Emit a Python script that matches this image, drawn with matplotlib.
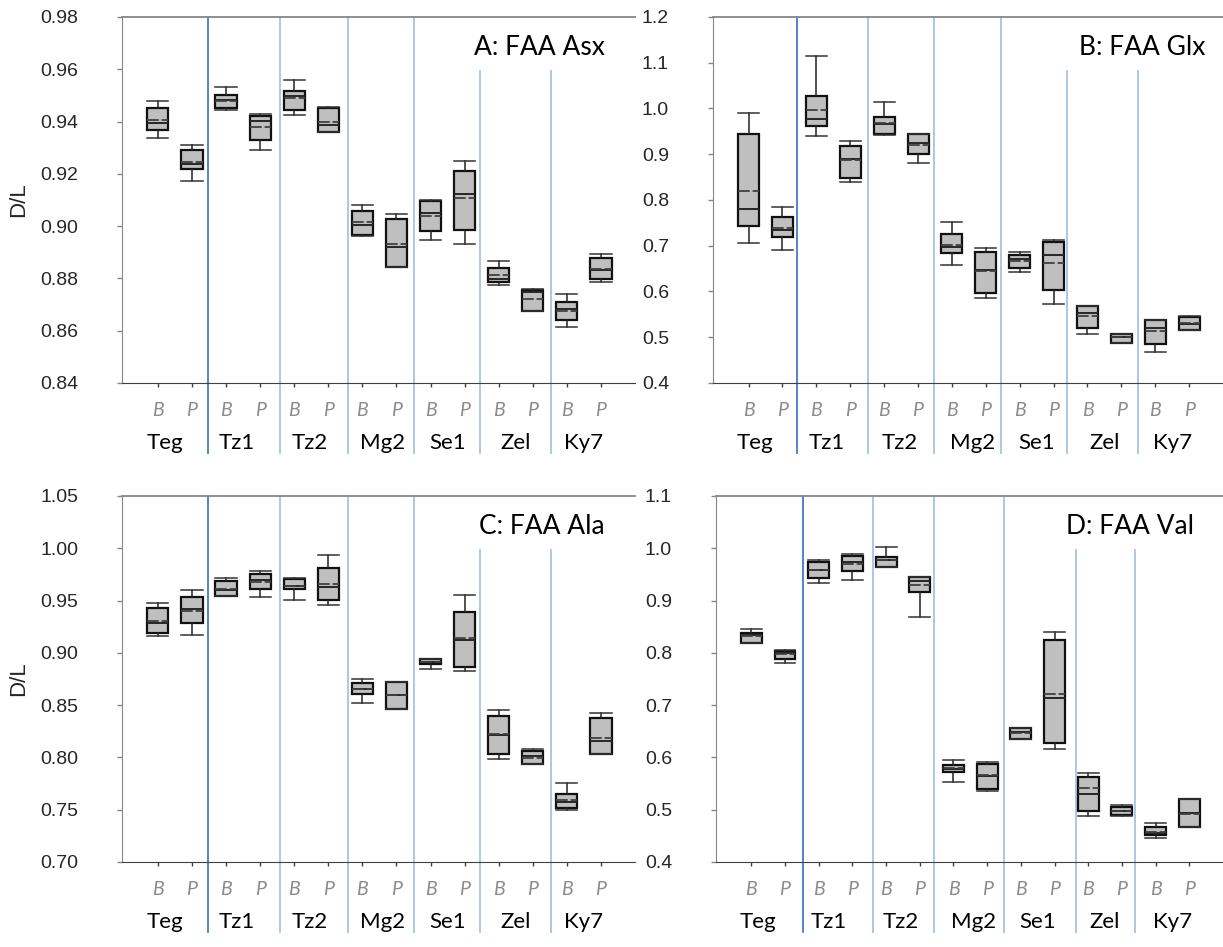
import matplotlib

matplotlib.use("Agg")
import matplotlib.pyplot as plt  # noqa: E402
from matplotlib.transforms import blended_transform_factory  # noqa: E402

SITES = ["Teg", "Tz1", "Tz2", "Mg2", "Se1", "Zel", "Ky7"]
FRACTIONS = ["B", "P"]

# --- A: Asx -------------------------------------------------------------
ASX_LO = [0.9338, 0.9174, 0.9443, 0.9292, 0.9426, 0.9359, 0.8964, 0.8843, 0.8948, 0.8932, 0.8775, 0.8674, 0.8613, 0.8788]
ASX_Q1 = [0.9368, 0.9217, 0.9451, 0.9330, 0.9443, 0.9360, 0.8966, 0.8845, 0.8980, 0.8985, 0.8788, 0.8675, 0.8640, 0.8797]
ASX_MED = [0.9393, 0.9238, 0.9481, 0.9401, 0.9498, 0.9387, 0.9004, 0.8921, 0.9051, 0.9124, 0.8799, 0.8749, 0.8684, 0.8831]
ASX_MEAN = [0.9406, 0.9247, 0.9480, 0.9379, 0.9490, 0.9398, 0.9015, 0.8932, 0.9040, 0.9108, 0.8812, 0.8722, 0.8677, 0.8836]
ASX_Q3 = [0.9451, 0.9290, 0.9502, 0.9421, 0.9516, 0.9453, 0.9059, 0.9028, 0.9097, 0.9211, 0.8839, 0.8757, 0.8709, 0.8877]
ASX_HI = [0.9479, 0.9309, 0.9531, 0.9430, 0.9560, 0.9454, 0.9080, 0.9046, 0.9098, 0.9249, 0.8865, 0.8758, 0.8742, 0.8895]

# --- B: Glx -------------------------------------------------------------
GLX_LO = [0.7067, 0.6906, 0.9406, 0.8388, 0.9430, 0.8803, 0.6588, 0.5868, 0.6427, 0.5722, 0.5074, 0.4870, 0.4676, 0.5150]
GLX_Q1 = [0.7437, 0.7197, 0.9624, 0.8484, 0.9434, 0.8999, 0.6841, 0.5977, 0.6507, 0.6027, 0.5199, 0.4878, 0.4844, 0.5155]
GLX_MED = [0.7808, 0.7335, 0.9770, 0.8898, 0.9650, 0.9247, 0.6972, 0.6470, 0.6703, 0.6797, 0.5519, 0.5003, 0.5206, 0.5286]
GLX_MEAN = [0.8200, 0.7379, 0.9958, 0.8868, 0.9675, 0.9210, 0.7023, 0.6448, 0.6659, 0.6631, 0.5460, 0.5000, 0.5134, 0.5301]
GLX_Q3 = [0.9449, 0.7633, 1.0263, 0.9173, 0.9813, 0.9449, 0.7263, 0.6871, 0.6797, 0.7080, 0.5672, 0.5074, 0.5366, 0.5432]
GLX_HI = [0.9907, 0.7843, 1.1157, 0.9282, 1.0132, 0.9450, 0.7517, 0.6950, 0.6862, 0.7132, 0.5674, 0.5080, 0.5370, 0.5467]

# --- C: Ala -------------------------------------------------------------
ALA_LO = [0.9158, 0.9168, 0.9540, 0.9537, 0.9503, 0.9455, 0.8524, 0.8458, 0.8843, 0.8824, 0.7982, 0.7938, 0.7500, 0.8030]
ALA_Q1 = [0.9187, 0.9283, 0.9547, 0.9608, 0.9611, 0.9503, 0.8603, 0.8460, 0.8893, 0.8862, 0.8030, 0.7940, 0.7520, 0.8033]
ALA_MED = [0.9283, 0.9416, 0.9598, 0.9697, 0.9636, 0.9633, 0.8657, 0.8597, 0.8912, 0.9123, 0.8218, 0.8017, 0.7570, 0.8154]
ALA_MEAN = [0.9308, 0.9400, 0.9614, 0.9675, 0.9639, 0.9656, 0.8651, 0.8600, 0.8910, 0.9139, 0.8222, 0.7998, 0.7590, 0.8186]
ALA_Q3 = [0.9432, 0.9534, 0.9687, 0.9757, 0.9703, 0.9811, 0.8715, 0.8721, 0.8938, 0.9394, 0.8399, 0.8059, 0.7650, 0.8380]
ALA_HI = [0.9477, 0.9598, 0.9719, 0.9780, 0.9716, 0.9939, 0.8753, 0.8722, 0.8940, 0.9553, 0.8454, 0.8081, 0.7755, 0.8422]

# --- D: Val -------------------------------------------------------------
VAL_LO = [0.8197, 0.7801, 0.9344, 0.9388, 0.9649, 0.8694, 0.5530, 0.5350, 0.6361, 0.6157, 0.4870, 0.4870, 0.4450, 0.4660]
VAL_Q1 = [0.8197, 0.7891, 0.9439, 0.9560, 0.9649, 0.9165, 0.5717, 0.5400, 0.6361, 0.6277, 0.4970, 0.4890, 0.4510, 0.4660]
VAL_MED = [0.8342, 0.7998, 0.9585, 0.9732, 0.9771, 0.9375, 0.5774, 0.5640, 0.6476, 0.7138, 0.5300, 0.4970, 0.4550, 0.4930]
VAL_MEAN = [0.8323, 0.7973, 0.9585, 0.9694, 0.9771, 0.9293, 0.5799, 0.5660, 0.6463, 0.7214, 0.5420, 0.4970, 0.4580, 0.4920]
VAL_Q3 = [0.8380, 0.8044, 0.9738, 0.9853, 0.9834, 0.9459, 0.5857, 0.5883, 0.6564, 0.8241, 0.5620, 0.5050, 0.4660, 0.5200]
VAL_HI = [0.8457, 0.8056, 0.9783, 0.9891, 1.0019, 0.9459, 0.5946, 0.5914, 0.6564, 0.8394, 0.5698, 0.5080, 0.4740, 0.5200]

TICK_FONT = "Liberation Sans"
LABEL_FONT = "Lato"
SEP_DARK = "#4a78c6"
SEP_LIGHT = "#a9c1e6"
GROUP_NUDGE = [-0.3, -0.2, -0.05, 0.1, 0.0, 0.0, 0.0]

# panel: title, data, axes rect, ylim, tick step, fmt, separator x (data), title x
PANELS = [
    ("A: FAA Asx", (ASX_LO, ASX_Q1, ASX_MED, ASX_MEAN, ASX_Q3, ASX_HI),
     [0.0998, 0.5956, 0.4195, 0.3865], (0.84, 0.98), 0.02, "{:.2f}",
     [1.475, 3.59, 5.58, 7.52, 9.45, 11.53], 0.942),
    ("B: FAA Glx", (GLX_LO, GLX_Q1, GLX_MED, GLX_MEAN, GLX_Q3, GLX_HI),
     [0.583, 0.5956, 0.417, 0.3865], (0.4, 1.2), 0.1, "{:.1f}",
     [1.44, 3.53, 5.47, 7.44, 9.41, 11.49], 0.965),
    ("C: FAA Ala", (ALA_LO, ALA_Q1, ALA_MED, ALA_MEAN, ALA_Q3, ALA_HI),
     [0.0998, 0.0898, 0.4195, 0.3865], (0.70, 1.05), 0.05, "{:.2f}",
     [1.475, 3.59, 5.58, 7.52, 9.45, 11.53], 0.940),
    ("D: FAA Val", (VAL_LO, VAL_Q1, VAL_MED, VAL_MEAN, VAL_Q3, VAL_HI),
     [0.5854, 0.0898, 0.4146, 0.3865], (0.4, 1.1), 0.1, "{:.1f}",
     [1.53, 3.62, 5.42, 7.51, 9.63, 11.40], 0.943),
]


def draw(fig, title, data, rect, ylim, step, fmt, seps, tx, show_ylabel):
    lo, q1, med, mean, q3, hi = data
    ax = fig.add_axes(rect)
    stats = [dict(whislo=a, q1=b, med=c, mean=d, q3=e, whishi=f, fliers=[])
             for a, b, c, d, e, f in zip(lo, q1, med, mean, q3, hi)]
    pos = list(range(len(stats)))
    ax.bxp(stats, positions=pos, widths=0.62, capwidths=0.62, patch_artist=True,
           showmeans=True, meanline=True, showfliers=False,
           boxprops=dict(facecolor="#bfbfbf", edgecolor="#111111", linewidth=1.6),
           whiskerprops=dict(color="#222222", linewidth=1.1),
           capprops=dict(color="#333333", linewidth=1.1),
           medianprops=dict(color="#262626", linewidth=1.4),
           meanprops=dict(color="#404040", linewidth=1.3, linestyle=(0, (6.5, 1.6))))

    ax.set_xlim(-1.05, 14.0)
    ax.set_ylim(*ylim)
    n = int(round((ylim[1] - ylim[0]) / step))
    ticks = [ylim[0] + i * step for i in range(n + 1)]
    ax.set_yticks(ticks)
    ax.set_yticklabels([fmt.format(t) for t in ticks], fontfamily=TICK_FONT,
                       fontsize=14, color="#262626")
    ax.tick_params(axis="y", length=3.6, width=1, color="#868686", pad=28)
    ax.set_xticks(pos)
    ax.set_xticklabels([])
    ax.tick_params(axis="x", length=3, width=1, color="#404040")

    ax.spines["right"].set_visible(False)
    ax.spines["left"].set_color("#868686")
    ax.spines["top"].set_color("#868686")
    ax.spines["top"].set_linewidth(1.3)
    ax.spines["bottom"].set_color("#404040")

    tr = blended_transform_factory(ax.transData, ax.transAxes)
    for i, x in enumerate(seps):
        top = 0.852 if i >= 4 else 1.0
        ax.plot([x, x], [-0.19, top], transform=tr, clip_on=False,
                color=SEP_DARK if i == 0 else SEP_LIGHT, lw=1.3, zorder=0)

    for p in pos:
        ax.text(p, -0.090, FRACTIONS[p % 2], transform=tr, ha="center",
                va="baseline", fontfamily=LABEL_FONT, style="italic",
                fontsize=14, color="#8c8c8c")
    for g, site in enumerate(SITES):
        ax.text(2 * g + 0.5 + GROUP_NUDGE[g], -0.180, site, transform=tr,
                ha="center", va="baseline", fontfamily=LABEL_FONT,
                fontsize=16, color="black")

    ax.text(tx, 0.896, title, transform=ax.transAxes, ha="right",
            va="baseline", fontfamily=LABEL_FONT, fontsize=19, color="black")
    if show_ylabel:
        fig.text(0.0155, rect[1] + rect[3] / 2, "D/L", rotation=90, ha="center",
                 va="center", fontfamily=TICK_FONT, fontsize=16, color="#262626")
    return ax


fig = plt.figure(figsize=(12.23, 9.47), dpi=100)
for k, (title, data, rect, ylim, step, fmt, seps, tx) in enumerate(PANELS):
    draw(fig, title, data, rect, ylim, step, fmt, seps, tx, show_ylabel=(k % 2 == 0))

fig.savefig("out.png", dpi=100)
